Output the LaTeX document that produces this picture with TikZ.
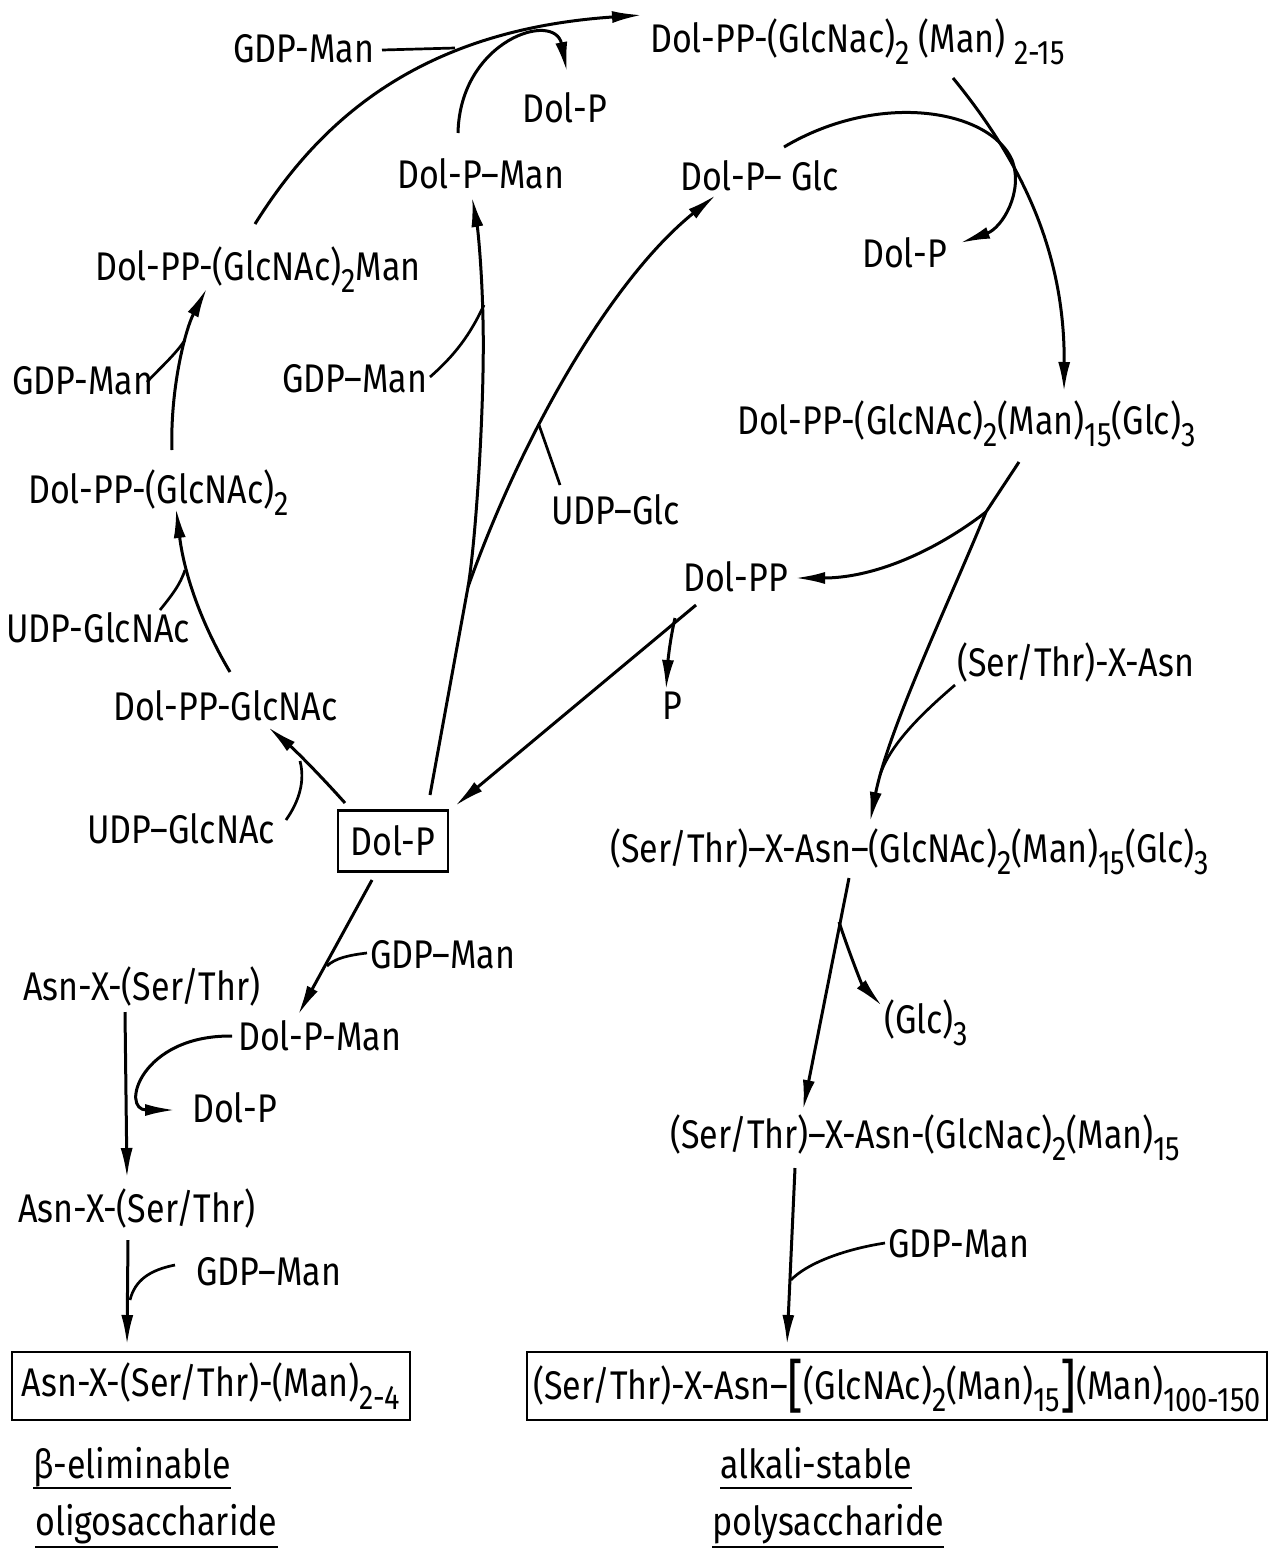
\documentclass[tikz,border=0pt]{standalone}
\usepackage{fontspec}
\setmainfont[FakeStretch=0.85]{Fira Sans}
\usetikzlibrary{arrows.meta,calc}
\newcommand\sbs[1]{\lower0.32em\hbox{\fontsize{34}{34}\selectfont #1}}
\newcommand\bigbrk[1]{\lower0.18em\hbox{\fontsize{58}{58}\selectfont #1}}
\begin{document}
\begin{tikzpicture}[x=1pt,y=-1pt,
  lab/.style={inner sep=0pt, anchor=base west, font=\fontsize{40}{44}\selectfont},
  arr/.style={line width=3pt, -{Latex[length=30pt,width=12pt]}},
  ln/.style={line width=2.7pt},
  boxn/.style={draw, line width=2.2pt, inner sep=0pt, font=\fontsize{40}{44}\selectfont},
  uline/.style={line width=2pt}]
\useasboundingbox (0,0) rectangle (1285,1551);
% ---- texts ----
\node[lab] (gdpA) at (233,62) {GDP-Man};
\node[lab] (top) at (650,52) {Dol-PP-(GlcNac)\sbs{2} (Man) \sbs{2-15}};
\node[lab] (dolpA) at (522,122) {Dol-P};
\node[lab] (dolpman) at (397,188) {Dol-P–Man};
\node[lab] (dolpglc) at (680,190) {Dol-P– Glc};
\node[lab] (dolpB) at (862,267) {Dol-P};
\node[lab] (man1) at (95,280) {Dol-PP-(GlcNAc)\sbs{2}Man};
\node[lab] (gdpB) at (12,394) {GDP-Man};
\node[lab] (gdpC) at (282,392) {GDP–Man};
\node[lab] (glc3) at (737,434) {Dol-PP-(GlcNAc)\sbs{2}(Man)\sbs{15}(Glc)\sbs{3}};
\node[lab] (glcnac2) at (28,503) {Dol-PP-(GlcNAc)\sbs{2}};
\node[lab] (udpglc) at (551,524) {UDP–Glc};
\node[lab] (dolpp) at (683,591) {Dol-PP};
\node[lab] (udpA) at (6,642) {UDP-GlcNAc};
\node[lab] (serthr) at (957,676) {(Ser/Thr)-X-Asn};
\node[lab] (pp) at (662,719) {P};
\node[lab] (glcnac) at (113,720) {Dol-PP-GlcNAc};
\node[lab] (udpB) at (87,843) {UDP–GlcNAc};
\node[boxn, minimum width=110pt, minimum height=61pt] (dolpbox) at (393,841) {Dol-P};
\node[lab] (asnglc) at (610,862) {(Ser/Thr)–X-Asn–(GlcNAc)\sbs{2}(Man)\sbs{15}(Glc)\sbs{3}};
\node[lab] (gdpD) at (370,968) {GDP–Man};
\node[lab] (asnA) at (23,1000) {Asn-X-(Ser/Thr)};
\node[lab] (glc) at (884,1033) {(Glc)\sbs{3}};
\node[lab] (dolpman2) at (238,1050) {Dol-P-Man};
\node[lab] (dolpC) at (192,1122) {Dol-P};
\node[lab] (man15) at (670,1148) {(Ser/Thr)–X-Asn-(GlcNac)\sbs{2}(Man)\sbs{15}};
\node[lab] (asnB) at (18,1222) {Asn-X-(Ser/Thr)};
\node[lab] (gdpE) at (196,1285) {GDP–Man};
\node[lab] (gdpF) at (888,1257) {GDP-Man};
\node[boxn, minimum width=398pt, minimum height=68pt] (boxA) at (211,1386) {Asn-X-(Ser/Thr)-(Man)\sbs{2-4}};
\node[boxn, minimum width=740pt, minimum height=68pt] (boxB) at (897,1386) {(Ser/Thr)-X-Asn–\bigbrk{[}(GlcNAc)\sbs{2}(Man)\sbs{15}\bigbrk{]}(Man)\sbs{100-150}};
\node[lab] (beta) at (33,1478) {β-eliminable};
\node[lab] (oligo) at (35,1535) {oligosaccharide};
\node[lab] (alk) at (720,1478) {alkali-stable};
\node[lab] (poly) at (712,1535) {polysaccharide};
\draw[uline] ($(beta.base west)+(0,10)$) -- ($(beta.base east)+(0,10)$);
\draw[uline] ($(oligo.base west)+(0,12)$) -- ($(oligo.base east)+(0,12)$);
\draw[uline] ($(alk.base west)+(0,10)$) -- ($(alk.base east)+(0,10)$);
\draw[uline] ($(poly.base west)+(0,12)$) -- ($(poly.base east)+(0,12)$);
% ---- connector end points ----
\coordinate (a0) at (255,224);
\coordinate (a1) at (642,15);
\coordinate (g0) at (382,50);
\coordinate (g1) at (455,48);
\coordinate (b0) at (458,133);
\coordinate (b1) at (567,72);
\coordinate (c0) at (953,78);
\coordinate (c1) at (1064,392);
\coordinate (d0) at (784,147);
\coordinate (dm) at (1012,160);
\coordinate (d1) at (960,243);
\coordinate (e0) at (430,795);
\coordinate (eb) at (468,587);
\coordinate (em) at (483,320);
\coordinate (e1) at (472,197);
\coordinate (f1) at (716,195);
\coordinate (h0) at (560,485);
\coordinate (h1) at (539,425);
\coordinate (k0) at (430,377);
\coordinate (k1) at (484,305);
\coordinate (i0) at (345,803);
\coordinate (i1) at (268,727);
\coordinate (j0) at (286,820);
\coordinate (j1) at (300,761);
\coordinate (l0) at (230,672);
\coordinate (l1) at (176,508);
\coordinate (m0) at (160,610);
\coordinate (m1) at (185,570);
\coordinate (n0) at (172,450);
\coordinate (n1) at (207,288);
\coordinate (o0) at (147,382);
\coordinate (o1) at (185,340);
\coordinate (p0) at (1019,462);
\coordinate (pb) at (986,512);
\coordinate (p1) at (870,822);
\coordinate (q1) at (795,578);
\coordinate (r0) at (955,685);
\coordinate (r1) at (880,775);
\coordinate (s0) at (696,605);
\coordinate (s1) at (455,806);
\coordinate (sb) at (675,618);
\coordinate (s2) at (666,690);
\coordinate (u0) at (372,880);
\coordinate (u1) at (298,1015);
\coordinate (v0) at (367,953);
\coordinate (v1) at (327,966);
\coordinate (w0) at (125,1012);
\coordinate (w1) at (127,1178);
\coordinate (x0) at (232,1036);
\coordinate (x1) at (175,1110);
\coordinate (y0) at (128,1240);
\coordinate (y1) at (127,1345);
\coordinate (z0) at (175,1265);
\coordinate (z1) at (130,1300);
\coordinate (rr0) at (849,878);
\coordinate (rrb) at (839,922);
\coordinate (rr1) at (803,1110);
\coordinate (gl1) at (882,1006);
\coordinate (ss0) at (795,1168);
\coordinate (ss1) at (787,1345);
\coordinate (tt0) at (885,1243);
\coordinate (tt1) at (791,1280);
% ---- connectors ----
\draw[arr] (a0) .. controls (320,120) and (420,30) .. (a1);
\draw[ln] (g0) -- (g1);
\draw[arr] (b0) .. controls (460,40) and (555,10) .. (b1);
\draw[arr] (c0) .. controls (1020,160) and (1065,250) .. (c1);
\draw[arr] (d0) .. controls (880,90) and (990,110) .. (dm) .. controls (1024,192) and (1002,228) .. (d1);
\draw[arr] (e0) -- (eb) .. controls (476,540) and (485,400) .. (em) .. controls (482,270) and (478,230) .. (e1);
\draw[arr] (eb) .. controls (520,440) and (610,280) .. (f1);
\draw[ln] (h0) .. controls (552,462) and (545,442) .. (h1);
\draw[ln] (k0) .. controls (455,355) and (470,335) .. (k1);
\draw[arr] (i0) .. controls (320,775) and (295,750) .. (i1);
\draw[ln] (j0) .. controls (300,800) and (305,780) .. (j1);
\draw[arr] (l0) .. controls (205,630) and (185,580) .. (l1);
\draw[ln] (m0) .. controls (172,595) and (180,585) .. (m1);
\draw[arr] (n0) .. controls (170,390) and (185,330) .. (n1);
\draw[ln] (o0) .. controls (160,368) and (175,355) .. (o1);
\draw[arr] (p0) -- (pb) .. controls (950,600) and (888,730) .. (p1);
\draw[arr] (pb) .. controls (930,555) and (870,578) .. (q1);
\draw[ln] (r0) .. controls (920,715) and (890,745) .. (r1);
\draw[arr] (s0) -- (s1);
\draw[arr] (sb) .. controls (670,640) and (668,660) .. (s2);
\draw[arr] (u0) -- (u1);
\draw[ln] (v0) .. controls (350,955) and (335,958) .. (v1);
\draw[arr] (w0) -- (w1);
\draw[arr] (x0) .. controls (140,1035) and (120,1110) .. (x1);
\draw[arr] (y0) -- (y1);
\draw[ln] (z0) .. controls (150,1270) and (135,1280) .. (z1);
\draw[arr] (rr0) -- (rr1);
\draw[arr] (rrb) .. controls (850,955) and (862,985) .. (gl1);
\draw[arr] (ss0) -- (ss1);
\draw[ln] (tt0) .. controls (840,1250) and (805,1265) .. (tt1);
\end{tikzpicture}
\end{document}
